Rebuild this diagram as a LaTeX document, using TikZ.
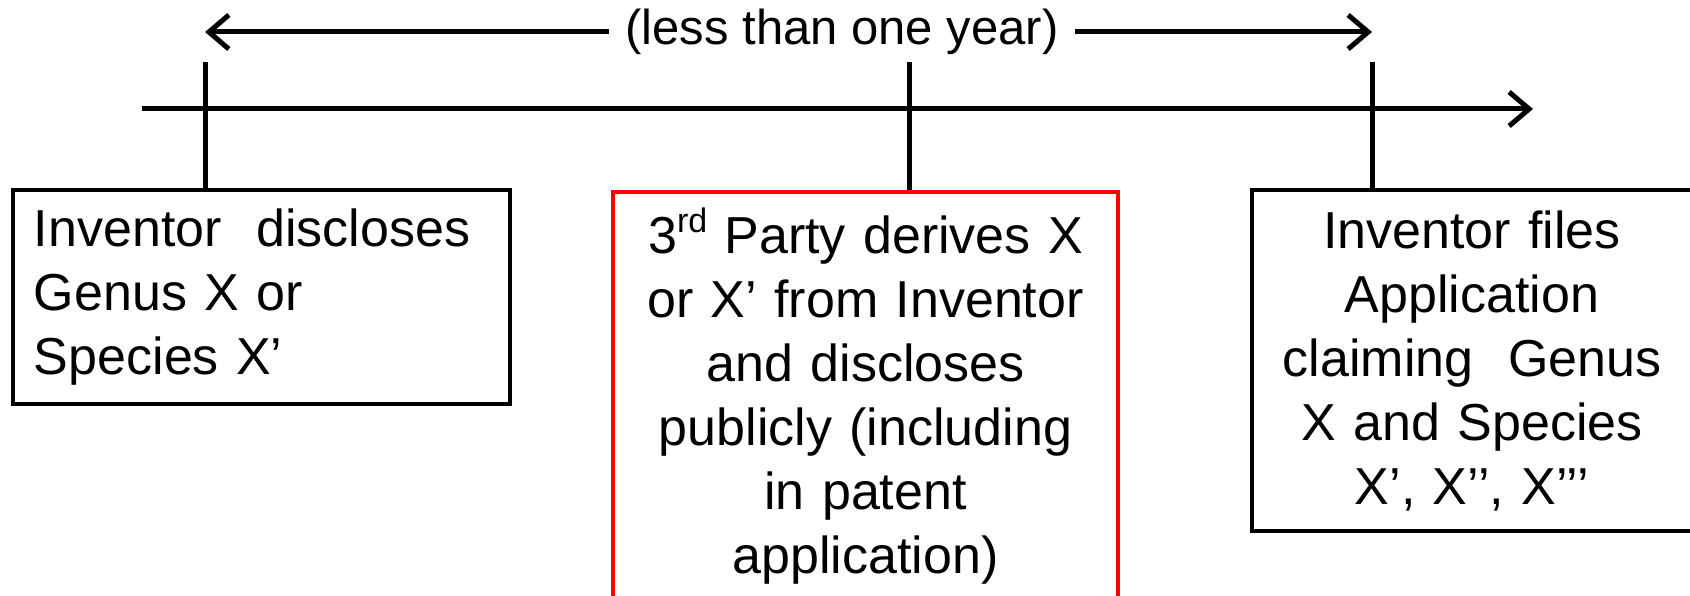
\documentclass[tikz,border=0pt]{standalone}
\usepackage{fontspec}
\setmainfont{Liberation Sans}
\usetikzlibrary{arrows.meta}
\tikzset{>={Straight Barb[length=20pt,width=34pt]}}
\tikzstyle{event}=[draw,line width=4.5pt,inner sep=0pt,font=\fontsize{52}{64}\selectfont]
\tikzstyle{tick}=[line width=5pt]

\begin{document}
\begin{tikzpicture}[x=1pt,y=1pt,line width=5pt]

  \useasboundingbox (0,0) rectangle (1690,595);

  % timeline variables
  \def\ya{563}
  \def\yt{486}
  \def\yk{533}

  % event boxes
  \node[event,align=left,text width=455pt,minimum width=497pt,minimum height=214pt]
    (disclose) at (261.5,298) {Inventor\ \ discloses\\Genus X or\\Species X’};
  \node[event,red,text=black,align=center,text width=470pt,minimum width=505pt,minimum height=408pt]
    (derive) at (865.5,199) {3\raisebox{0.4em}{\fontsize{34}{34}\selectfont rd} Party derives X\\or X’ from Inventor\\and discloses\\publicly (including\\in patent\\application)};
  \node[event,align=center,text width=420pt,minimum width=440pt,minimum height=341pt]
    (file) at (1472,234.5) {Inventor files\\Application\\claiming\ \ Genus\\X and Species\\X’, X’’, X’’’};

  % timeline
  \coordinate (start) at (142,\yt);
  \coordinate (end) at (1533,\yt);
  \draw[->] (start) -- (end);

  % ticks
  \coordinate (t1) at (205,\yk);
  \coordinate (t2) at (909,\yk);
  \coordinate (t3) at (1372,\yk);
  \draw[tick] (t1) -- (t1 |- disclose.north);
  \draw[tick] (t2) -- (t2 |- derive.north);
  \draw[tick] (t3) -- (t3 |- file.north);

  % span arrow
  \node[inner sep=14pt,font=\fontsize{49}{60}\selectfont] (span) at (842,\ya) {(less than one year)};
  \draw[->] (span.west) -- (t1 |- span);
  \draw[->] (span.east) -- (t3 |- span);

\end{tikzpicture}
\end{document}
